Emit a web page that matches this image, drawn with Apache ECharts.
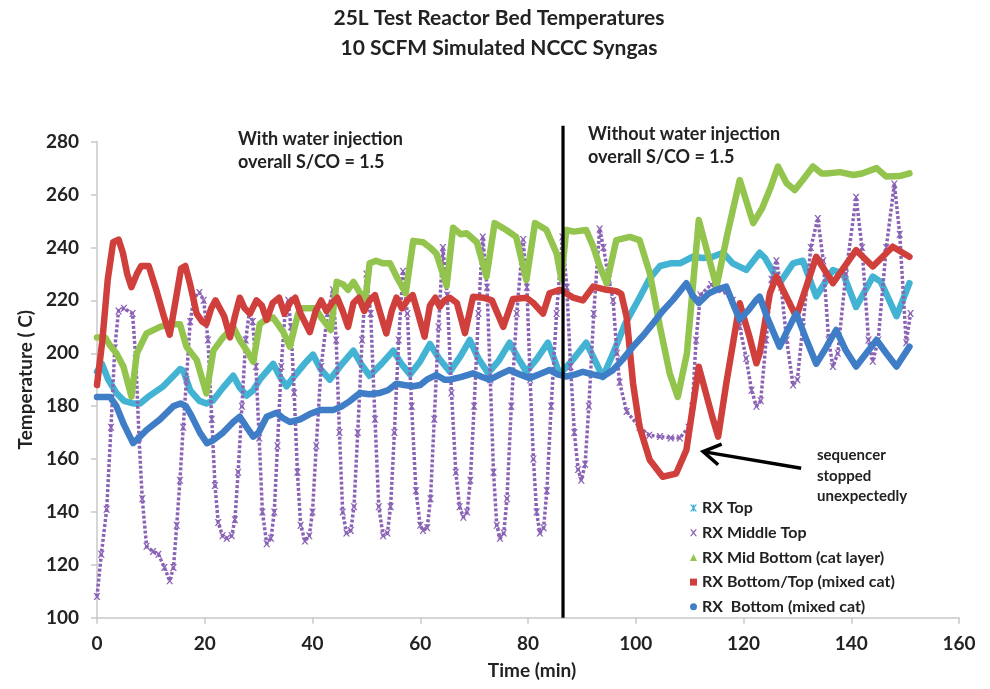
<!DOCTYPE html>
<html><head><meta charset="utf-8">
<script src="https://cdn.jsdelivr.net/npm/echarts@6/dist/echarts.min.js"></script>
<style>html,body{margin:0;padding:0;background:#fff}#c{width:990px;height:689px}</style>
</head><body><div id="c"></div>
<script>
const titleText = '25L Test Reactor Bed Temperatures\n10 SCFM Simulated NCCC Syngas';
const xAxisName = 'Time (min)';
const yAxisName = 'Temperature ( C)';
const xRange = [0, 160, 20];
const yRange = [100, 280, 20];
const seriesNames = ['RX Top', 'RX Middle Top', 'RX Mid Bottom (cat layer)', 'RX Bottom/Top (mixed cat)', 'RX  Bottom (mixed cat)'];
const seriesColors = ['#43b3d3', '#8a63b5', '#93c44e', '#cf3f3c', '#3f7dc6'];

const rxTop = [[0,193],[0.9,196],[2.1,190],[3.6,185],[5,182],[6.7,181],[8,181],[9.8,184],[12.3,187.5],[14,191],[15.4,194],[16,193.5],[17.3,186],[19,182],[20.3,181],[21.5,182],[23.4,187],[25.3,191.5],[26.5,187],[27.8,184],[29,186],[30.2,190],[32.7,196],[34,191],[35.2,187.5],[36.5,191],[38.5,196],[40.1,199.5],[41.5,194],[43.2,190],[45.5,196],[47.6,201],[49,196],[50.6,191.5],[52.8,196],[55,201],[56.5,196],[58.1,192],[60,197],[61.8,203.5],[63.5,198],[65.5,193],[67.5,199],[69.2,205],[70.8,198],[72.6,192.5],[74.5,197],[76.6,204],[78.2,198],[79.7,193],[81.7,198],[83.7,204],[85,197],[85.9,192],[88.5,198],[90.8,204],[92.5,197],[93.9,191],[95.8,200],[98,211],[100.7,221],[102.5,228],[104.5,233],[106.5,234],[108.2,234],[110.6,236.5],[112.5,236],[114.3,236.5],[116.2,238],[118,234],[120.5,231.5],[123,238],[124,236],[126.7,226.5],[129.2,234],[131,235],[133.5,221.5],[136.6,231.5],[138.5,230],[140.9,217.5],[144,229],[145.5,227],[148.4,214],[150.8,226.5]];

const rxMiddleTop = [[0,108],[0.8,124],[1.8,141],[2.6,172],[3.3,202],[4.0,216],[5.0,217],[6.6,215],[7.2,198],[7.8,168],[8.4,145],[9.2,127],[10.4,125],[11.4,124],[12.5,119],[13.5,114],[14.2,119],[14.8,135],[15.4,152],[16.0,172],[16.6,190],[17.3,212],[18.0,221],[19.0,223],[19.8,220],[20.6,205],[21.3,175],[21.9,150],[22.5,136],[23.3,131],[24.1,130],[25.0,131],[25.6,137],[26.2,155],[26.9,180],[27.6,205],[28.3,216],[28.9,212],[29.5,195],[30.1,168],[30.7,140],[31.5,128],[32.3,130],[32.9,140],[33.5,165],[34.2,195],[34.9,215],[35.5,220],[36.0,210],[36.6,185],[37.2,155],[37.8,135],[38.6,129],[39.4,131],[40.0,140],[40.7,165],[41.6,195],[42.8,215],[43.8,224],[44.4,205],[45.0,170],[45.6,140],[46.3,132],[47.1,133],[47.7,142],[48.4,170],[49.2,205],[50.0,230],[50.8,215],[51.6,175],[52.3,142],[53.1,131],[53.9,132],[54.5,142],[55.2,170],[56.0,205],[56.8,231],[57.6,215],[58.4,180],[59.2,148],[60.0,135],[60.5,133],[61.3,134],[61.9,145],[62.6,175],[63.4,210],[64.2,240],[65.0,222],[65.8,185],[66.6,155],[67.3,142],[68.0,138],[68.7,140],[69.3,152],[70.0,180],[70.8,215],[71.6,244],[72.4,225],[73.0,190],[73.6,155],[74.2,135],[74.8,130],[75.5,132],[76.1,145],[76.9,180],[77.9,215],[79.1,243],[79.8,225],[80.4,190],[81.0,160],[81.6,140],[82.2,132],[82.9,134],[83.5,148],[84.3,180],[85.3,215],[86.4,244],[87.2,225],[87.9,195],[88.6,170],[89.3,156],[89.9,152],[90.6,158],[91.3,180],[92.2,215],[93.3,247],[94.0,240],[95.0,228],[95.8,220],[96.5,200],[97.0,189],[98.3,178],[100.7,172],[102.5,169],[104.5,168.5],[106.5,168],[108.2,168],[109.8,172],[110.5,180],[111.2,205],[112.0,222],[114.0,226],[116.0,224],[118.0,220],[119.3,210],[120.5,198],[121.5,186],[122.4,180],[123.2,182],[124.2,205],[125.2,228],[126.1,235],[127.0,225],[128.0,205],[129.2,188],[130.0,190],[131.0,210],[132.5,240],[133.8,251],[134.8,235],[135.8,205],[136.6,195],[137.5,200],[139.0,230],[140.9,259],[142.0,240],[143.2,205],[144.0,197],[145.0,205],[146.5,240],[148.0,264],[149.0,245],[150.2,204],[151.0,215]];

const rxMidBottom = [[0,206],[1.5,206],[2.4,203],[3.6,200],[4.9,195],[6.4,183.6],[7.4,200],[9.2,207.5],[11.7,210],[13.5,211],[15.4,211],[16.6,202.5],[18.5,197.5],[20.3,184.8],[21.6,201],[23.4,206],[25.3,210],[26.5,205],[27.8,201],[29,196.8],[30.2,211],[31.5,213],[32.7,213.5],[34.6,208],[35.8,202.5],[37.2,214],[37.7,217],[39,217],[40.5,217],[41.8,213],[43.4,208.8],[44.5,227],[45.7,226],[46.6,224],[47.6,227],[48.8,222.8],[49.8,220],[50.6,234],[51.8,235],[53.1,234],[54.4,234],[55.6,229],[57.3,222.7],[58.7,242.5],[60.5,242],[61.8,240],[63,237.7],[64.9,225.5],[66.1,247.5],[67.5,245],[68.6,245.4],[70.5,242],[72.3,229],[73.8,249.2],[75.9,246.7],[77.8,244],[79.7,227.7],[81.3,249.2],[83.4,246.7],[85.3,237.8],[86.2,228],[87.1,246.6],[88.5,246],[90.8,246.6],[92.1,240.4],[93.3,233],[94.6,226.5],[96.4,242.8],[98.9,244],[100.7,242.8],[102.6,230.3],[104.5,210],[106.3,192.4],[107.8,183.5],[109.5,200],[111.7,250.4],[115,225.2],[117,245],[119.3,265.5],[121.8,249.2],[123.5,255],[124.9,262],[126.4,270.6],[128,264.3],[129.5,261.7],[131,265.5],[132.9,270.6],[134.5,268],[135.4,268],[137.9,268.5],[140.4,267.4],[142,268],[144.7,270],[146.5,266.8],[149,267],[150.8,268]];

const rxBottomTop = [[0,188],[1,205],[2,228],[3,242],[4,243],[4.8,238],[5.6,230],[6.4,225],[7.4,230],[8.2,233],[9.6,233],[11,224],[12.4,214],[13.5,207],[14.6,220],[15.6,232],[16.4,233],[17.3,226],[18.5,215],[19.5,212],[20.3,211],[21.2,217],[22,220],[22.8,217],[23.6,214],[24.7,206],[25.6,214],[26.5,221],[27.4,217],[28.4,215],[29.6,220],[30.6,218],[31.5,212.6],[32.6,219],[33.8,221],[34.8,215],[35.8,219],[36.8,221],[37.8,215],[39.5,208],[40.6,216],[41.6,220],[42.6,216],[43.6,219],[44.6,221],[45.6,216],[46.6,210],[47.6,219],[48.6,221],[49.6,216],[50.6,220],[51.6,222],[52.6,215],[53.7,207.5],[54.7,216],[55.6,221],[56.6,217],[57.6,220],[58.6,222],[59.6,215],[60.8,206.3],[61.8,218],[62.8,221],[63.6,217.6],[64.5,220],[65.5,221],[66.8,219],[68.3,207.6],[69.8,221.4],[71.7,221],[73.3,220],[75.4,210],[77.2,220.5],[79.7,221],[81,219],[82.8,215],[84,222.7],[85.9,224],[87.1,222.7],[88.4,221],[90.2,220],[92.1,225.2],[94.6,224],[96.4,223.5],[97.3,222.5],[98.3,213.8],[99.5,188.6],[100.7,172.2],[102.6,159.6],[105,153.3],[107.5,154.5],[109.4,163.4],[111.7,194.9],[114.2,176],[115.3,168.5],[116.8,188.6],[119.3,218.9],[121.1,206.3],[122.4,196.2],[123,200],[124.9,222.7],[126.1,229],[129.8,213.8],[133.5,236.5],[136.6,226.5],[140.9,239],[144,232.8],[147.7,240.3],[150.8,236.5]];

const rxBottom = [[0,183.5],[1.5,183.5],[2.4,183.5],[3.6,180],[5,173],[6.7,166],[8,168.5],[9.2,171],[11.7,175],[14.2,180],[15.5,181],[16.5,180],[17.5,176.5],[19.1,170],[20.4,166],[21.5,167],[23.4,170],[25.3,174],[26.5,176],[27.8,172],[29,168.5],[30,170],[31.5,176],[33.3,177.5],[34.5,175.5],[35.8,174],[37.7,175],[39.5,177],[41.4,178.5],[43.8,178.5],[45.5,180],[47,182],[48.8,185],[50.5,184.5],[52.5,185],[54,186],[55.6,188.5],[57,188],[58.7,187.5],[60,188],[61.2,190],[63,191.8],[64.5,190],[65.5,190],[67.5,191],[69.8,192.4],[71.5,191],[72.9,190],[74.8,192],[76.6,193.7],[78.5,192],[80.3,190.6],[82,192],[84,193.7],[85.5,192],[87.1,191.2],[88.8,192],[90.2,193],[92,192],[93.9,191.2],[95.8,193.7],[97.5,197.5],[99.5,202.5],[101.5,207],[103.2,211.3],[105,216],[106.9,220.2],[109.4,226.5],[110.5,222],[111.7,219],[113.6,222.7],[115,224],[116.8,225.2],[118,219],[119.3,212.6],[120.8,216],[122.4,220.2],[123,221.4],[124.5,213],[126.7,202.5],[128,208],[129.8,215],[131.5,206],[133.5,196],[135.3,202],[137.2,208.8],[139,201],[140.9,195],[142.8,200],[144.7,205],[146.5,200],[148.4,195],[150.8,202.5]];

// annotations (data coordinates)
const dividerTime = 86.5;
const dividerSpan = [100, 286];
const arrowFrom = [130.7, 156.5];
const arrowTo = [112.5, 162.8];
const leftNote = 'With water injection\noverall S/CO = 1.5';
const rightNote = 'Without water injection\noverall S/CO = 1.5';
const arrowNote = 'sequencer\nstopped\nunexpectedly';

const FONT = 'Lato, "Open Sans", sans-serif';
const TXT = '#222';
const xPath = 'path://M0,0L2.2,0L5,3.4L7.8,0L10,0L6.2,5L10,10L7.8,10L5,6.6L2.2,10L0,10L3.8,5Z';
const starPath = 'path://M4,0L6,0L6,10L4,10Z M0,0L2.2,0L5,3.4L7.8,0L10,0L6.2,5L10,10L7.8,10L5,6.6L2.2,10L0,10L3.8,5Z';
const legendIcons = [starPath, xPath, 'triangle', 'rect', 'circle'];

const chart = echarts.init(document.getElementById('c'), null, {renderer: 'canvas'});

function lineSeries(i, data) {
  return {
    name: seriesNames[i], type: 'line', data: data, showSymbol: false, symbol: 'none',
    lineStyle: {color: seriesColors[i], width: 6.5, join: 'round', cap: 'round'},
    itemStyle: {color: seriesColors[i]}, z: 2 + i, silent: true
  };
}

const option = {
  animation: false,
  backgroundColor: '#ffffff',
  title: {
    text: titleText, left: 499, textAlign: 'center', top: 3, padding: 0,
    textStyle: {fontFamily: FONT, fontSize: 21, fontWeight: 'bold', color: TXT, lineHeight: 30}
  },
  grid: {left: 97, right: 31, top: 141.7, bottom: 71.3, containLabel: false},
  legend: {
    orient: 'vertical', left: 690, top: 499.5, padding: 0, itemWidth: 7, itemHeight: 7, itemGap: 7.7,
    textStyle: {fontFamily: FONT, fontSize: 16, fontWeight: 'bold', color: TXT, lineHeight: 17},
    data: seriesNames.map((n, i) => ({name: n, icon: legendIcons[i], itemStyle: {color: seriesColors[i]}}))
  },
  xAxis: {
    type: 'value', min: xRange[0], max: xRange[1], interval: xRange[2],
    name: xAxisName, nameLocation: 'middle', nameGap: 44,
    nameTextStyle: {fontFamily: FONT, fontSize: 19, fontWeight: 'bold', color: TXT, padding: [0, 0, 0, 8]},
    axisLine: {show: true, lineStyle: {color: '#c8c8c8', width: 1.5}},
    axisTick: {show: true, length: 6, lineStyle: {color: '#c8c8c8', width: 1.5}},
    axisLabel: {margin: 17, fontFamily: FONT, fontSize: 19, fontWeight: 'bold', color: TXT},
    splitLine: {show: false}
  },
  yAxis: {
    type: 'value', min: yRange[0], max: yRange[1], interval: yRange[2],
    name: yAxisName, nameLocation: 'middle', nameGap: 55, nameRotate: 90,
    nameTextStyle: {fontFamily: FONT, fontSize: 19, fontWeight: 'bold', color: TXT},
    axisLine: {show: true, lineStyle: {color: '#c8c8c8', width: 1.5}},
    axisTick: {show: true, length: 6, lineStyle: {color: '#c8c8c8', width: 1.5}},
    axisLabel: {margin: 18, fontFamily: FONT, fontSize: 19, fontWeight: 'bold', color: TXT},
    splitLine: {show: false}
  },
  series: [
    lineSeries(0, rxTop),
    {
      name: seriesNames[1], type: 'line', data: rxMiddleTop, showSymbol: true, symbol: xPath, symbolSize: 7,
      lineStyle: {color: seriesColors[1], width: 3.5, type: [3, 2]},
      itemStyle: {color: seriesColors[1]}, z: 3, silent: true
    },
    lineSeries(2, rxMidBottom),
    lineSeries(3, rxBottomTop),
    lineSeries(4, rxBottom)
  ]
};
chart.setOption(option);

// annotation graphics placed through the chart's own scales
const p = (v) => chart.convertToPixel({gridIndex: 0}, v);
const dTop = p([dividerTime, dividerSpan[1]]);
const dBot = p([dividerTime, dividerSpan[0]]);
const aFrom = p(arrowFrom);
const aTo = p(arrowTo);
const ang = Math.atan2(aFrom[1] - aTo[1], aFrom[0] - aTo[0]);
const headLen = 20, headSpread = 0.55;
const h1 = [aTo[0] + headLen * Math.cos(ang + headSpread), aTo[1] + headLen * Math.sin(ang + headSpread)];
const h2 = [aTo[0] + headLen * Math.cos(ang - headSpread), aTo[1] + headLen * Math.sin(ang - headSpread)];
const noteStyle = (t) => ({text: t, font: 'bold 18px ' + FONT, fill: TXT, lineHeight: 23});

chart.setOption({
  graphic: [
    {type: 'line', shape: {x1: dTop[0], y1: dTop[1], x2: dBot[0], y2: dBot[1]}, style: {stroke: '#000', lineWidth: 3.2}, z: 50},
    {type: 'polyline', shape: {points: [aFrom, aTo]}, style: {stroke: '#000', lineWidth: 3.5, fill: null}, z: 50},
    {type: 'polyline', shape: {points: [h1, aTo, h2]}, style: {stroke: '#000', lineWidth: 3.5, fill: null, lineJoin: 'miter'}, z: 50},
    {type: 'text', x: 238, y: 128, style: noteStyle(leftNote), z: 50},
    {type: 'text', x: 588, y: 123, style: noteStyle(rightNote), z: 50},
    {type: 'text', x: 817, y: 445, style: {text: arrowNote, font: 'bold 15px ' + FONT, fill: TXT, lineHeight: 20.5}, z: 50}
  ]
});
</script>
</body></html>
